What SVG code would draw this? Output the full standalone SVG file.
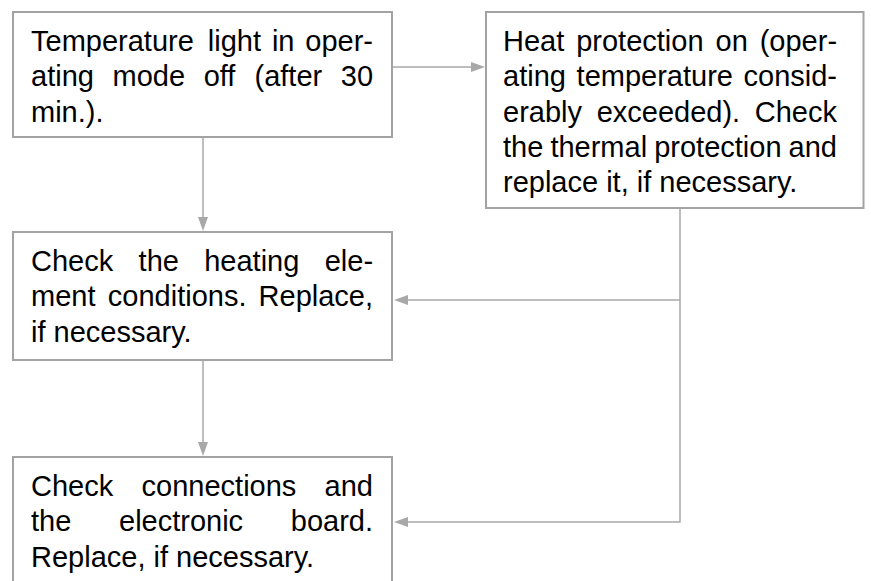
<svg xmlns="http://www.w3.org/2000/svg" width="871" height="581" viewBox="0 0 871 581">
<defs>
<style>
.box{fill:#ffffff;stroke:#a3a3a3;stroke-width:2}
.conn{fill:none;stroke:#a8a8a8;stroke-width:1.5}
.t{font-family:"Liberation Sans",Arial,Helvetica,sans-serif;font-size:29px;fill:#000000}
</style>
<marker id="arr" viewBox="0 0 14 10" refX="11" refY="5" markerWidth="14" markerHeight="10" markerUnits="userSpaceOnUse" orient="auto">
<path d="M0,0 L14,5 L0,10 Z" fill="#a8a8a8"/>
</marker>
</defs>
<rect width="871" height="581" fill="#ffffff"/>
<g id="connectors">
<path class="conn" d="M392,67 H482" marker-end="url(#arr)"/>
<path class="conn" d="M203,137 V228" marker-end="url(#arr)"/>
<path class="conn" d="M203,360 V453" marker-end="url(#arr)"/>
<path class="conn" d="M680,208 V522 H397" marker-end="url(#arr)"/>
<path class="conn" d="M680,300 H397" marker-end="url(#arr)"/>
</g>
<g id="node-temperature-light">
<rect class="box" x="13" y="12" width="379" height="125"/>
<text class="t"><tspan x="31" y="51">Temperature</tspan><tspan x="207.8" y="51">light</tspan><tspan x="271.9" y="51">in</tspan><tspan x="305.3" y="51">oper-</tspan></text>
<text class="t"><tspan x="31" y="86.3">ating</tspan><tspan x="112.5" y="86.3">mode</tspan><tspan x="203.7" y="86.3">off</tspan><tspan x="254.5" y="86.3">(after</tspan><tspan x="340.8" y="86.3">30</tspan></text>
<text class="t" x="31" y="121.6">min.).</text>
</g>
<g id="node-heat-protection">
<rect class="box" x="486" y="12" width="377.5" height="196"/>
<text class="t"><tspan x="503" y="51">Heat</tspan><tspan x="576.2" y="51">protection</tspan><tspan x="715.5" y="51">on</tspan><tspan x="759.7" y="51">(oper-</tspan></text>
<text class="t"><tspan x="503" y="86.3">ating</tspan><tspan x="576.6" y="86.3">temperature</tspan><tspan x="743.5" y="86.3">consid-</tspan></text>
<text class="t"><tspan x="503" y="121.6">erably</tspan><tspan x="596.7" y="121.6">exceeded).</tspan><tspan x="754.8" y="121.6">Check</tspan></text>
<text class="t"><tspan x="503" y="156.9">the</tspan><tspan x="550.4" y="156.9">thermal</tspan><tspan x="654.2" y="156.9">protection</tspan><tspan x="788.6" y="156.9">and</tspan></text>
<text class="t" x="503" y="192.2">replace it, if necessary.</text>
</g>
<g id="node-heating-element">
<rect class="box" x="13" y="232" width="379" height="128"/>
<text class="t"><tspan x="31" y="271">Check</tspan><tspan x="138.6" y="271">the</tspan><tspan x="204.2" y="271">heating</tspan><tspan x="324.7" y="271">ele-</tspan></text>
<text class="t"><tspan x="31" y="306.3">ment</tspan><tspan x="107.8" y="306.3">conditions.</tspan><tspan x="258.6" y="306.3">Replace,</tspan></text>
<text class="t" x="31" y="341.6">if necessary.</text>
</g>
<g id="node-connections">
<rect class="box" x="13" y="457" width="379" height="200"/>
<text class="t"><tspan x="31" y="496">Check</tspan><tspan x="141.6" y="496">connections</tspan><tspan x="324.6" y="496">and</tspan></text>
<text class="t"><tspan x="31" y="531.3">the</tspan><tspan x="119" y="531.3">electronic</tspan><tspan x="290.8" y="531.3">board.</tspan></text>
<text class="t" x="31" y="566.6">Replace, if necessary.</text>
</g>
</svg>
